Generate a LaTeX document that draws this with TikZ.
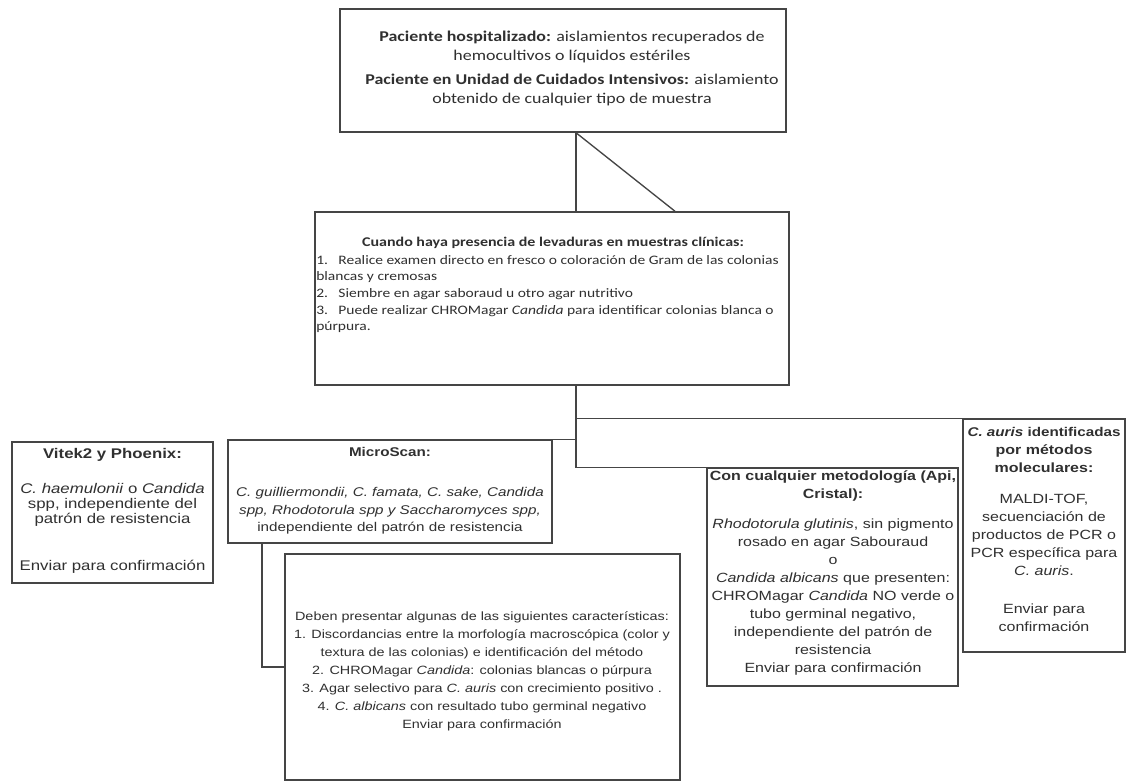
\documentclass[tikz,border=0pt]{standalone}
\usepackage{fontspec}
\setmainfont{Liberation Sans}[FakeStretch=1.2]
\newfontfamily\calfont{Carlito}[FakeStretch=1.2]
\usetikzlibrary{fit}
\definecolor{lc}{HTML}{454545}
\definecolor{tc}{HTML}{303030}
\begin{document}
\begin{tikzpicture}[x=0.75pt,y=-0.75pt,
  box/.style={draw=lc, line width=1.1pt, inner sep=0pt},
  conn/.style={draw=lc, line width=1pt},
  txt/.style={inner sep=0pt, text=tc, align=center}]
\useasboundingbox[fill=white] (0,0) rectangle (1130,784);
% boxes
\node[box, fit={(340,9) (786,132)}] (top) {};
\node[box, fit={(315,212) (789,385)}] (cent) {};
\node[box, fit={(12,442) (213,583)}] (vitek) {};
\node[box, fit={(228,440) (552,543)}] (micro) {};
\node[box, fit={(285,554) (680,780)}] (deben) {};
\node[box, fit={(707,468) (958,686)}] (con) {};
\node[box, fit={(963,419) (1125,652)}] (auris) {};
% helper coordinates
\coordinate (tx) at (576,0);
\coordinate (dgx) at (675,0);
\coordinate (mx) at (262,0);
% connectors
\draw[conn] (top.south -| tx) -- (cent.north -| tx);
\draw[conn] (top.south -| tx) -- (cent.north -| dgx);
\draw[conn] (cent.south -| tx) -- (tx |- con.north) -- (con.north west);
\draw[conn] (tx |- auris.north) -- (auris.north west);
\draw[conn] (micro.north east) -- (tx |- micro.north);
\draw[conn] (micro.south -| mx) |- (deben.west);
% texts
\node[txt, anchor=north, font=\calfont\fontsize{11.2}{14.2}\selectfont] (topt) at (572,31)
 {\textbf{Paciente hospitalizado:} aislamientos recuperados de\\
  hemocultivos o líquidos estériles\\[4pt]
  \textbf{Paciente en Unidad de Cuidados Intensivos:} aislamiento\\
  obtenido de cualquier tipo de muestra};
\node[txt, anchor=north, font=\calfont\bfseries\fontsize{10}{12}\selectfont] (centh) at (553,237)
 {Cuando haya presencia de levaduras en muestras clínicas:};
\node[txt, anchor=north west, align=left, font=\calfont\fontsize{9.7}{12.5}\selectfont] (centi) at (316,255)
 {1.\hspace{0.8em}Realice examen directo en fresco o coloración de Gram de las colonias\\
  blancas y cremosas\\
  2.\hspace{0.8em}Siembre en agar saboraud u otro agar nutritivo\\
  3.\hspace{0.8em}Puede realizar CHROMagar \textit{Candida} para identificar colonias blanca o\\
  púrpura.};
\node[txt, anchor=north, font=\fontsize{10.5}{11.25}\selectfont] (vitekt) at (112.5,448)
 {\textbf{Vitek2 y Phoenix:}\\[15pt]
  \textit{C. haemulonii} o \textit{Candida}\\
  spp, independiente del\\
  patrón de resistencia\\[24pt]
  Enviar para confirmación};
\node[txt, anchor=north, font=\fontsize{9.5}{13.1}\selectfont] (microt) at (390,447)
 {\textbf{MicroScan:}\\[17pt]
  \textit{C. guilliermondii, C. famata, C. sake, Candida}\\
  \textit{spp, Rhodotorula spp y Saccharomyces spp,}\\
  independiente del patrón de resistencia};
\node[txt, anchor=north, font=\fontsize{10}{13.5}\selectfont] (cont) at (833,470)
 {\textbf{Con cualquier metodología (Api,}\\
  \textbf{Cristal):}\\[9pt]
  \textit{Rhodotorula glutinis}, sin pigmento\\
  rosado en agar Sabouraud\\
  o\\
  \textit{Candida albicans} que presenten:\\
  CHROMagar \textit{Candida} NO verde o\\
  tubo germinal negativo,\\
  independiente del patrón de\\
  resistencia\\
  Enviar para confirmación};
\node[txt, anchor=north, font=\fontsize{10}{13.5}\selectfont] (aurist) at (1044,427)
 {{\fontsize{9.5}{13.5}\selectfont\textbf{\textit{C. auris} identificadas}}\\
  \textbf{por métodos}\\
  \textbf{moleculares:}\\[9.75pt]
  MALDI-TOF,\\
  secuenciación de\\
  productos de PCR o\\
  PCR específica para\\
  \textit{C. auris}.\\[15pt]
  Enviar para\\
  confirmación};
\node[txt, anchor=north, font=\fontsize{9}{13.6}\selectfont] (debent) at (482,611)
 {Deben presentar algunas de las siguientes características:\\
  1. Discordancias entre la morfología macroscópica (color y\\
  textura de las colonias) e identificación del método\\
  2. CHROMagar \textit{Candida}: colonias blancas o púrpura\\
  3. Agar selectivo para \textit{C. auris} con crecimiento positivo .\\
  4. \textit{C. albicans} con resultado tubo germinal negativo\\
  Enviar para confirmación};
\end{tikzpicture}
\end{document}
